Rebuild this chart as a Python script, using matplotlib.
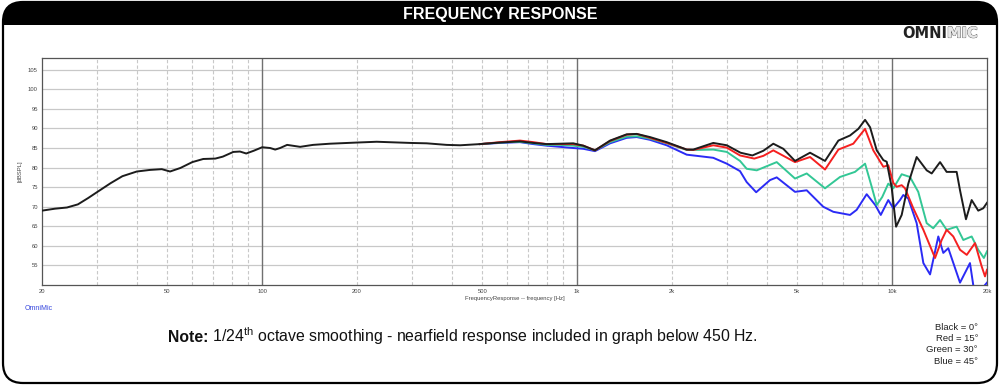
import matplotlib
matplotlib.use("Agg")
import matplotlib.pyplot as plt
import matplotlib.patheffects as pe
from matplotlib.patches import FancyBboxPatch, Rectangle
from matplotlib.ticker import FixedLocator, NullFormatter, NullLocator

# -----------------------------------------------------------
# Data (frequency in Hz, level in dBSPL)
# -----------------------------------------------------------
black_f = [20, 22, 24, 26, 28, 30, 33, 36, 40, 44, 48, 51, 55, 60, 65, 71, 75,
           81, 85, 89, 94, 100, 106, 110, 114, 120, 132, 145, 164, 200, 231,
           295, 333, 385, 425, 491, 569, 658, 726, 800, 882, 972, 1046, 1139,
           1272, 1436, 1545, 1702, 1924, 2227, 2337, 2704, 2985, 3300, 3600,
           3900, 4194, 4512, 4915, 5486, 6121, 6749, 7348, 7810, 8202, 8509,
           8933, 9376, 9608, 9960, 10290, 10720, 11250, 11960, 12870, 13350,
           14190, 14890, 16020, 16420, 17150, 17880, 18760, 19460, 20000]
black_db = [69.0, 69.5, 69.8, 70.6, 72.2, 73.8, 76.0, 77.8, 79.0, 79.4, 79.6,
            79.0, 79.9, 81.4, 82.2, 82.3, 82.8, 84.0, 84.1, 83.6, 84.3, 85.2,
            85.0, 84.6, 85.0, 85.8, 85.3, 85.8, 86.1, 86.4, 86.6, 86.3, 86.2,
            85.8, 85.7, 86.0, 86.4, 86.7, 86.3, 86.0, 86.1, 86.2, 85.6, 84.4,
            86.9, 88.5, 88.6, 87.8, 86.5, 84.6, 84.6, 86.3, 85.7, 83.8, 83.1,
            84.3, 86.1, 84.8, 81.7, 83.8, 81.7, 86.9, 88.2, 89.9, 92.2, 90.3,
            84.4, 81.9, 81.5, 75.0, 64.9, 67.9, 75.9, 82.7, 79.3, 78.5, 81.4,
            78.9, 78.9, 74.2, 66.8, 71.7, 69.0, 69.6, 71.0]

red_f = [491, 569, 658, 726, 800, 882, 972, 1046, 1139, 1272, 1436, 1545, 1702,
         1924, 2227, 2337, 2704, 2985, 3288, 3650, 3900, 4194, 4915, 5486,
         6121, 6749, 7526, 8202, 8710, 9376, 9720, 10084, 10330, 10720, 10986,
         11670, 12560, 13680, 14360, 14890, 15630, 16420, 17250, 18320, 19230,
         19710, 20000]
red_db = [86.0, 86.5, 86.9, 86.5, 86.0, 86.0, 86.0, 85.6, 84.4, 86.8, 88.4,
          88.6, 87.6, 86.3, 84.6, 84.5, 85.7, 85.1, 83.1, 82.3, 83.0, 84.4,
          81.4, 82.7, 79.5, 84.6, 86.1, 89.9, 84.4, 80.2, 80.6, 76.1, 75.1,
          75.5, 74.7, 69.6, 64.1, 56.9, 61.5, 64.1, 62.4, 59.0, 57.7, 60.7,
          54.8, 52.2, 53.9]

green_f = [491, 569, 658, 726, 800, 882, 972, 1046, 1139, 1272, 1436, 1545,
           1702, 1924, 2227, 2337, 2704, 2985, 3288, 3452, 3716, 4300, 4915,
           5354, 6121, 6830, 7620, 8202, 8610, 8933, 9300, 9720, 10084, 10720,
           11390, 12100, 12870, 13500, 14190, 14890, 16020, 16820, 17880,
           18760, 19550, 20000]
green_db = [86.0, 86.4, 86.6, 86.2, 85.8, 85.8, 85.6, 85.3, 84.4, 86.5, 87.9,
            88.0, 87.4, 86.2, 84.5, 84.5, 84.6, 84.0, 81.7, 79.7, 79.3, 81.4,
            77.2, 78.5, 74.7, 77.6, 78.9, 81.0, 75.1, 70.4, 72.5, 75.9, 74.7,
            78.3, 77.6, 73.8, 65.8, 64.5, 66.6, 64.1, 64.9, 61.5, 62.4, 59.0,
            56.9, 58.6]

blue_f = [491, 569, 658, 726, 800, 882, 972, 1046, 1139, 1272, 1436, 1545,
          1702, 1924, 2227, 2337, 2704, 2985, 3288, 3452, 3700, 4093, 4300,
          4915, 5354, 6040, 6504, 7348, 7713, 8300, 8843, 9200, 9720, 10084,
          10590, 10846, 11250, 11960, 12560, 13190, 14010, 14530, 15070,
          16420, 17660, 18320, 20000]
blue_db = [86.0, 86.3, 86.5, 86.0, 85.6, 85.3, 85.0, 84.8, 84.2, 86.2, 87.6,
           87.8, 87.1, 85.7, 83.3, 83.1, 82.5, 81.0, 79.1, 76.3, 73.7, 76.8,
           77.5, 73.8, 74.2, 70.0, 68.7, 67.9, 69.2, 73.2, 70.4, 67.9, 71.7,
           69.6, 71.7, 73.0, 72.1, 65.8, 55.6, 52.7, 62.4, 58.2, 59.4, 50.6,
           55.6, 47.0, 50.6]

x_ticks = [20, 50, 100, 200, 500, 1000, 2000, 5000, 10000, 20000]
x_tick_labels = ["20", "50", "100", "200", "500", "1k", "2k", "5k", "10k", "20k"]
y_ticks = [55, 60, 65, 70, 75, 80, 85, 90, 95, 100, 105]
legend_lines = ["Black = 0°", "Red = 15°", "Green = 30°", "Blue = 45°"]

W, H = 1000, 388
font = "Liberation Sans"
plt.rcParams["mathtext.fontset"] = "custom"
plt.rcParams["mathtext.rm"] = font

# -----------------------------------------------------------
# Figure + rounded frame with black header band
# -----------------------------------------------------------
fig = plt.figure(figsize=(W / 100, H / 100), dpi=100)
fig.patch.set_facecolor("white")

frame = FancyBboxPatch((0.03, 0.05), 9.94, 3.81,
                       boxstyle="round,pad=0,rounding_size=0.2",
                       transform=fig.dpi_scale_trans,
                       fc="white", ec="black", lw=1.6, zorder=-2)
fig.add_artist(frame)
header = Rectangle((0, (H - 25) / 100), W / 100, 0.4,
                   transform=fig.dpi_scale_trans, fc="black", ec="none",
                   zorder=-1)
header.set_clip_path(frame)
fig.add_artist(header)

fig.text(0.5, 1 - 14 / H, "FREQUENCY RESPONSE", color="white",
         fontweight="bold", ha="center", va="center", fontsize=11.5,
         family=font)

# OMNIMIC logo
fig.text(947 / W, 1 - 33 / H, "OMNI", ha="right", va="center",
         fontsize=10.5, fontweight="bold", color="#222222",
         family="DejaVu Sans")
mic = fig.text(947 / W, 1 - 33 / H, "MIC", ha="left", va="center",
               fontsize=10.5, fontweight="bold", color="#e6e6e6",
               family="DejaVu Sans")
mic.set_path_effects([pe.withStroke(linewidth=0.8, foreground="#555555"),
                      pe.Normal()])

# -----------------------------------------------------------
# Plot area
# -----------------------------------------------------------
ax = fig.add_axes([42 / W, 1 - 285 / H, 945 / W, 227 / H])
ax.set_xscale("log")
ax.set_xlim(20, 20000)
ax.set_ylim(50, 108)

# grid
for y in y_ticks:
    ax.axhline(y, color="#c8c8c8", lw=0.9, zorder=1)
minor = [f * m for m in (10, 100, 1000) for f in range(2, 10)]
for f in sorted(set(minor)):
    if 20 < f < 20000:
        ax.axvline(f, color="#c8c8c8", lw=0.8, ls=(0, (3, 2)), zorder=1)
for f in (100, 1000, 10000):
    ax.axvline(f, color="#707070", lw=1.0, zorder=1)

ax.plot(blue_f, blue_db, color="#2b2bf5", lw=1.4, zorder=3)
ax.plot(green_f, green_db, color="#33c795", lw=1.4, zorder=4)
ax.plot(red_f, red_db, color="#f52020", lw=1.4, zorder=5)
ax.plot(black_f, black_db, color="#1c1c1c", lw=1.4, zorder=6)

ax.xaxis.set_major_locator(FixedLocator(x_ticks))
ax.set_xticklabels(x_tick_labels)
ax.xaxis.set_minor_locator(NullLocator())
ax.xaxis.set_minor_formatter(NullFormatter())
ax.set_yticks(y_ticks)
ax.tick_params(length=0, labelsize=4.2, labelcolor="#444444", pad=3)
for lab in ax.get_xticklabels() + ax.get_yticklabels():
    lab.set_family(font)
ax.set_xlabel("FrequencyResponse -- frequency [Hz]", fontsize=4.2,
              color="#444444", labelpad=1, family=font)
ax.set_ylabel("[dBSPL]", fontsize=4.2, color="#444444", labelpad=4,
              family=font)
for s in ax.spines.values():
    s.set_color("#555555")
    s.set_linewidth(0.9)

fig.text(25 / W, 1 - 308 / H, "OmniMic", color="#3344dd", fontsize=5,
         ha="left", va="center", family=font)

# -----------------------------------------------------------
# Note line
# -----------------------------------------------------------
t1 = fig.text(168 / W, 1 - 342 / H, "Note:", fontsize=11.3, fontweight="bold",
              ha="left", va="baseline", family=font, color="#111111")
fig.canvas.draw()
bb = t1.get_window_extent()
fig.text(bb.x1 / W, 1 - 342 / H,
         r" 1/24$^{\mathrm{th}}$ octave smoothing - nearfield response "
         r"included in graph below 450 Hz.",
         fontsize=11.4, family=font, color="#111111", ha="left",
         va="baseline")

for i, line in enumerate(legend_lines):
    fig.text(978 / W, 1 - (327 + i * 11.4) / H, line, fontsize=6.8,
             ha="right", va="center", family=font, color="#222222")

fig.savefig("out.png", dpi=100)
